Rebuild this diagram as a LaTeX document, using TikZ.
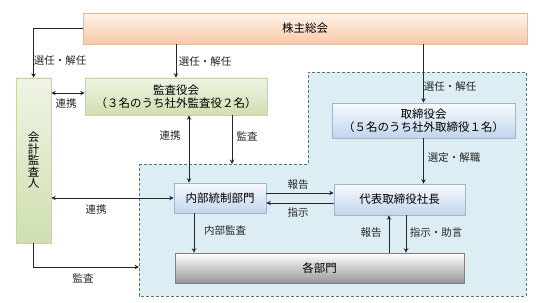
\documentclass[tikz,border=0pt]{standalone}
\usepackage{fontspec}
\setmainfont{Noto Sans CJK JP}
\usepackage{tikz}
\usetikzlibrary{arrows.meta, positioning, shadows}
\definecolor{cgline}{HTML}{262626}
\definecolor{cgorangetop}{HTML}{FEF4EC}
\definecolor{cgorangebot}{HTML}{F9C9A6}
\definecolor{cgorangeline}{HTML}{F2B48A}
\definecolor{cggreentop}{HTML}{EFF4E4}
\definecolor{cggreenbot}{HTML}{CFDFB0}
\definecolor{cggreenline}{HTML}{C3D69B}
\definecolor{cgbluetop}{HTML}{F7FAFD}
\definecolor{cgbluebot}{HTML}{C3D5EC}
\definecolor{cgblueline}{HTML}{9FB6D3}
\definecolor{cggraytop}{HTML}{FFFFFF}
\definecolor{cggraybot}{HTML}{979797}
\definecolor{cggrayline}{HTML}{7F7F7F}
\definecolor{cgzone}{HTML}{DCEEF4}
\definecolor{cgzoneline}{HTML}{5E7486}

\begin{document}
\begin{tikzpicture}[
  x=1pt, y=-1pt,
  org/.style={rectangle, draw=#1line, top color=#1top, bottom color=#1bot,
    line width=0.6pt, inner sep=2pt, align=center,
    font=\fontsize{11.5}{13}\selectfont,
    drop shadow={shadow xshift=1pt, shadow yshift=-1pt, opacity=0.2}},
  lbl/.style={font=\fontsize{10.5}{12}\selectfont, text=black!85, inner sep=1pt},
  arr/.style={-{Stealth[length=4.5pt,width=4.5pt]}, line width=0.9pt, cgline},
  biarr/.style={arr, {Stealth[length=4.5pt,width=4.5pt]}-{Stealth[length=4.5pt,width=4.5pt]}},
]
  \useasboundingbox (0,0) rectangle (537,302);

  % dashed area of the executive side
  \coordinate (z1) at (139,164);
  \coordinate (z2) at (308,164);
  \coordinate (z3) at (308,72);
  \coordinate (z4) at (526,72);
  \coordinate (z5) at (526,296);
  \coordinate (z6) at (139,296);
  \coordinate (zleft) at (139,267);
  \filldraw[fill=cgzone, draw=cgzoneline, line width=0.8pt, dash pattern=on 3pt off 2pt]
    (z1) -- (z2) -- (z3) -- (z4) -- (z5) -- (z6) -- cycle;

  % boxes
  \node[org=cgorange, minimum width=444pt, minimum height=31pt] (sh) at (305,28.5) {株主総会};
  \node[org=cggreen, minimum width=35pt, minimum height=165pt,
    font=\fontsize{11.5}{11.5}\selectfont] (kaikei) at (33.5,160.5) {会\\計\\監\\査\\人};
  \node[org=cggreen, minimum width=182pt, minimum height=37pt, inner sep=1pt,
    font=\fontsize{11.5}{12.5}\selectfont] (kansa) at (176,96.5) {監査役会\\（３名のうち社外監査役２名）};
  \node[org=cgblue, minimum width=183pt, minimum height=35pt, inner sep=1pt,
    font=\fontsize{11.5}{12.5}\selectfont] (board) at (423.5,120.5) {取締役会\\（５名のうち社外取締役１名）};
  \node[org=cgblue, minimum width=92pt, minimum height=30pt] (naibu) at (220,198) {内部統制部門};
  \node[org=cgblue, minimum width=131pt, minimum height=31pt] (ceo) at (399.5,199.5) {代表取締役社長};
  \node[org=cggray, minimum width=289pt, minimum height=30pt] (kaku) at (319.5,268) {各部門};

  % connectors
  \draw[arr] (sh.west) -| (kaikei.north);
  \draw[arr] (kansa.north |- sh.south) -- (kansa.north);
  \draw[arr] (board.north |- sh.south) -- (board.north);
  \draw[biarr] ([yshift=3.5pt]kaikei.east |- kansa.west) -- ([yshift=3.5pt]kansa.west);
  \draw[biarr] ([xshift=-31pt]naibu.north) -- ([xshift=-31pt]naibu.north |- kansa.south);
  \draw[arr] ([xshift=56pt]kansa.south) -- ([xshift=56pt]kansa.south |- z1);
  \draw[biarr] (kaikei.east |- naibu.west) -- (naibu.west);
  \draw[arr] (kaikei.south) |- (zleft);
  \draw[arr] ([yshift=5pt]naibu.east) -- ([yshift=5pt]naibu.east -| ceo.west);
  \draw[arr] ([yshift=-5pt]naibu.east -| ceo.west) -- ([yshift=-5pt]naibu.east);
  \draw[arr] (board.south) -- (board.south |- ceo.north);
  \draw[arr] ([xshift=-10.5pt]ceo.south |- kaku.north) -- ([xshift=-10.5pt]ceo.south);
  \draw[arr] ([xshift=6.5pt]ceo.south) -- ([xshift=6.5pt]ceo.south |- kaku.north);
  \draw[arr] ([xshift=-26pt]naibu.south) -- ([xshift=-26pt]naibu.south |- kaku.north);

  % labels
  \node[lbl] (lkaikei) at (60,61) {選任・解任};
  \node[lbl] (lkansa) at (205,62) {選任・解任};
  \node[lbl] (lboard) at (450,87) {選任・解任};
  \node[lbl] (lrenkei1) at (66,104) {連携};
  \node[lbl] (lrenkei2) at (170,136) {連携};
  \node[lbl] (lkansa2) at (247,136) {監査};
  \node[lbl] (lrenkei3) at (96,210) {連携};
  \node[lbl] (lkansa3) at (83,278) {監査};
  \node[lbl] (lhoukoku1) at (298,185) {報告};
  \node[lbl] (lshiji) at (298,213) {指示};
  \node[lbl] (lsentei) at (454,158) {選定・解職};
  \node[lbl] (lhoukoku2) at (371,233) {報告};
  \node[lbl] (ljogen) at (436,233) {指示・助言};
  \node[lbl] (lnaibu) at (225,231) {内部監査};
\end{tikzpicture}
\end{document}
